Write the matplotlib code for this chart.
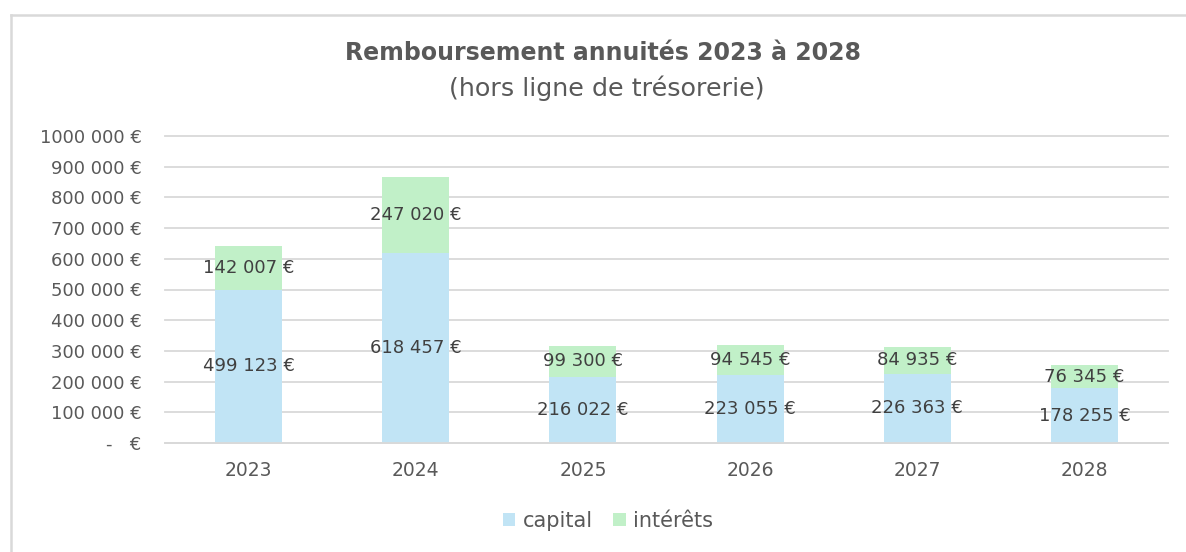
import matplotlib
matplotlib.use("Agg")
import matplotlib.pyplot as plt
from matplotlib.patches import Patch
from matplotlib.lines import Line2D
import numpy as np

years = ["2023", "2024", "2025", "2026", "2027", "2028"]
capital = [499123, 618457, 216022, 223055, 226363, 178255]
interets = [142007, 247020, 99300, 94545, 84935, 76345]
capital_labels = ["499 123 €", "618 457 €", "216 022 €", "223 055 €", "226 363 €", "178 255 €"]
interets_labels = ["142 007 €", "247 020 €", "99 300 €", "94 545 €", "84 935 €", "76 345 €"]
ytick_values = [0, 100000, 200000, 300000, 400000, 500000, 600000, 700000, 800000, 900000, 1000000]
ytick_labels = ["-   €", "100 000 €", "200 000 €", "300 000 €", "400 000 €", "500 000 €",
                "600 000 €", "700 000 €", "800 000 €", "900 000 €", "1000 000 €"]

plt.rcParams['font.family'] = ['DejaVu Sans']

W, H = 1186, 552
fig = plt.figure(figsize=(W / 100, H / 100), dpi=100)
fig.patch.set_facecolor("white")

# outer chart border (top and left edges visible)
fig.add_artist(Line2D([10.5 / W, 1.0], [1 - 14.5 / H, 1 - 14.5 / H], transform=fig.transFigure,
                      color="#D9D9D9", linewidth=1.8))
fig.add_artist(Line2D([10.5 / W, 10.5 / W], [0, 1 - 14.5 / H], transform=fig.transFigure,
                      color="#D9D9D9", linewidth=1.8))

ax = fig.add_axes([165 / W, 1 - 443 / H, (1168 - 165) / W, (443 - 136) / H])

col_cap = "#C1E4F5"
col_int = "#C1F0C8"
x = np.arange(len(years))
bw = 0.4
ax.bar(x, capital, width=bw, color=col_cap, zorder=2, label="capital")
ax.bar(x, interets, width=bw, bottom=capital, color=col_int, zorder=2, label="intérêts")

for i in range(len(years)):
    ax.text(x[i], capital[i] / 2, capital_labels[i], ha="center", va="center",
            fontsize=13, color="#404040", zorder=3)
    ax.text(x[i], capital[i] + interets[i] / 2, interets_labels[i], ha="center", va="center",
            fontsize=13, color="#404040", zorder=3)

ax.set_xlim(-0.5, len(years) - 0.5)
ax.set_ylim(0, 1000000)
ax.set_yticks(ytick_values)
ax.set_yticklabels(ytick_labels, fontsize=13)
ax.set_xticks(x)
ax.set_xticklabels(years, fontsize=13.5)
ax.grid(axis="y", color="#D9D9D9", linewidth=1.3, zorder=0)
for gl in ax.get_ygridlines():
    gl.set_clip_on(False)
ax.set_axisbelow(True)
for s in ["top", "right", "left"]:
    ax.spines[s].set_visible(False)
ax.spines["bottom"].set_color("#D9D9D9")
ax.spines["bottom"].set_linewidth(1.3)
ax.tick_params(axis="both", length=0, colors="#595959")
ax.tick_params(axis="y", pad=17)
ax.tick_params(axis="x", pad=13)

fig.text(603 / W, 1 - 53 / H, "Remboursement annuités 2023 à 2028", ha="center", va="center",
         fontsize=17, fontweight="bold", color="#595959")
fig.text(607 / W, 1 - 88 / H, "(hors ligne de trésorerie)", ha="center", va="center",
         fontsize=18.3, color="#595959")

handles = [Patch(facecolor=col_cap, label="capital"), Patch(facecolor=col_int, label="intérêts")]
fig.legend(handles=handles, loc="center", bbox_to_anchor=(608 / W, 1 - 521 / H), ncol=2,
           frameon=False, fontsize=15, handlelength=0.6, handleheight=0.6,
           handletextpad=0.35, columnspacing=1.0, labelcolor="#595959")

fig.savefig("out.png", dpi=100, facecolor="white")
